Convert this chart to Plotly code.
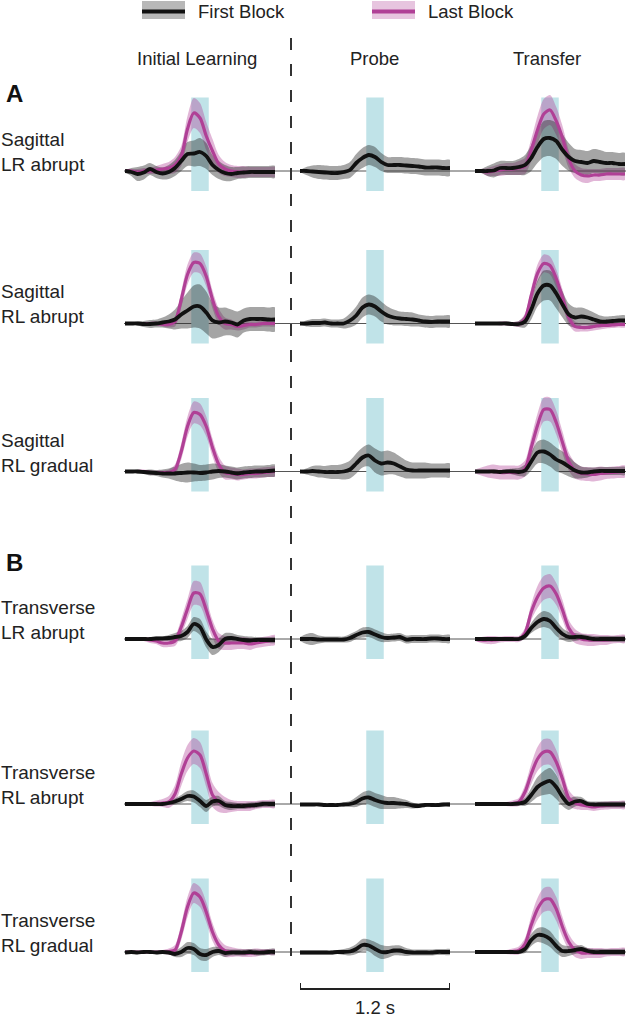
import plotly.graph_objects as go

# ---------------- data ----------------
TIME_S = [-0.6, -0.55, -0.5, -0.45, -0.4, -0.35, -0.3, -0.25, -0.2, -0.15, -0.1, -0.05,
          0.0, 0.05, 0.1, 0.15, 0.2, 0.25, 0.3, 0.35, 0.4, 0.45, 0.5, 0.55, 0.6]
CUE_WINDOW_S = [-0.07, 0.07]
SCALE_BAR_S = 1.2
COLUMN_TITLES = ["Initial Learning", "Probe", "Transfer"]
ROW_LABELS = ["Sagittal<br>LR abrupt", "Sagittal<br>RL abrupt", "Sagittal<br>RL gradual",
              "Transverse<br>LR abrupt", "Transverse<br>RL abrupt", "Transverse<br>RL gradual"]
GROUP_LETTERS = ["A", "B"]
LEGEND_NAMES = ["First Block", "Last Block"]

# Row 1: Sagittal LR abrupt
SLA_IL_FIRST = [0, -1, -3, -1.5, 2, -1, -2.5, -1, 3, 10, 17, 17.5, 19, 15, 6, 1, -2, -3, -2, -1.5, -1, -1, -1, -1, -1]
SLA_IL_FIRST_SEM = [1, 4, 7, 7, 6, 6, 6, 7, 8, 10, 12, 13, 14, 13, 10, 9, 8, 7, 6, 6, 6, 6, 6, 6, 6]
SLA_IL_LAST = [0, 0, -1, 0, 0, 1, 2, 3, 6, 15, 42, 58, 53, 35, 20, 7, 2, 0, -1, -1, -1, -1, -1, -1, -1]
SLA_IL_LAST_SEM = [2, 2, 3, 3, 3, 4, 5, 6, 8, 10, 13, 15, 15, 14, 12, 9, 7, 6, 6, 6, 5, 5, 5, 5, 5]
SLA_PR_FIRST = [0, 0, -0.5, -1, -1.5, -2, -2, -1, 1, 8, 13, 16, 14, 9, 6, 6, 6, 5.5, 5, 4.5, 3.5, 3.5, 3.5, 3, 3]
SLA_PR_FIRST_SEM = [1, 4, 6, 7, 7, 7, 7, 7, 8, 9, 10, 10, 10, 9, 8, 8, 8, 8, 8, 8, 8, 8, 8, 8, 8]
SLA_TR_FIRST = [0, 0, 0, 0.5, 3, 3, 3, 4, 6, 13, 24, 32, 33, 30, 21, 14, 10, 9, 8, 10, 9, 8, 8, 7, 7]
SLA_TR_FIRST_SEM = [1, 2, 5, 7, 7, 7, 7, 8, 10, 13, 16, 18, 18, 18, 16, 14, 12, 12, 12, 12, 12, 11, 11, 11, 11]
SLA_TR_LAST = [0, 0, -1, 0, 1, 2, 2, 3, 5, 21, 41, 57, 61, 50, 33, 12, 0, -4, -5, -4, -4, -3, -3, -3, -3]
SLA_TR_LAST_SEM = [1, 2, 4, 5, 6, 6, 6, 7, 8, 11, 14, 15, 15, 14, 12, 9, 7, 7, 7, 6, 6, 6, 6, 6, 6]

# Row 2: Sagittal RL abrupt
SRA_IL_FIRST = [0, 0, 0, -0.5, -0.5, 0, 1, 2, 4, 9, 13, 17, 17, 11, 3, 1, 2, 1, -1, 3, 4.5, 4.5, 4.5, 4, 4]
SRA_IL_FIRST_SEM = [1, 1, 2, 3, 4, 4, 5, 7, 10, 14, 18, 21, 22, 21, 18, 15, 14, 13, 13, 12, 12, 12, 12, 12, 12]
SRA_IL_LAST = [0, 0, 0, 0, 0, 0, -1, -1, 2, 24, 49, 61, 60, 47, 24, 7, 0, -1, -3, -2, -1, -1, 0, 0, 0]
SRA_IL_LAST_SEM = [1, 1, 1, 1, 1, 2, 2, 3, 5, 8, 10, 10, 10, 10, 9, 8, 6, 5, 4, 4, 3, 3, 3, 3, 3]
SRA_PR_FIRST = [0, 0, 0.5, 0.5, 1, 0, 0, 0, 3, 8, 16, 19, 17, 12, 8, 6, 5, 4.5, 4, 3, 2, 1.5, 2, 2, 2]
SRA_PR_FIRST_SEM = [1, 3, 4, 4, 4, 4, 4, 5, 7, 9, 10, 10, 10, 10, 9, 8, 7, 7, 7, 6, 6, 6, 6, 6, 6]
SRA_TR_FIRST = [0, 0, 0, 0, 0, 0, -0.5, -0.5, 2, 14, 30, 38, 38, 30, 19, 9, 6, 7, 6, 4, 2, 2, 2.5, 3, 3]
SRA_TR_FIRST_SEM = [1, 1, 1, 1, 1, 2, 2, 3, 6, 10, 13, 15, 15, 15, 13, 11, 10, 9, 8, 7, 6, 5, 5, 5, 5]
SRA_TR_LAST = [0, 0, 0, 0, 0, 0, -0.5, -0.5, 5, 28, 50, 60, 58, 45, 26, 6, -3, -4, -4, -3, -2, -2, -1.5, -1, -1]
SRA_TR_LAST_SEM = [1, 1, 1, 1, 2, 2, 2, 3, 5, 7, 9, 9, 9, 9, 8, 7, 5, 4, 4, 4, 4, 3, 3, 3, 3]

# Row 3: Sagittal RL gradual
SRG_IL_FIRST = [0, 0, 0, -0.5, -1, -1.5, -2, -2, -2, -1.5, -1, -1, -1.5, -1, 0, 0.5, 0, -1, -2, -1, -0.5, 0, 0, 0.5, 1]
SRG_IL_FIRST_SEM = [1, 1, 2, 2, 3, 3, 4, 5, 7, 9, 10, 9, 8, 8, 8, 7, 6, 6, 6, 6, 6, 6, 6, 6, 6]
SRG_IL_LAST = [0, 0, 0, 0, -1, -1, -1, -1, 2, 20, 45, 59, 57, 45, 24, 7, -1, -2, -3, -3, -2, -2, -1, -0.5, 0]
SRG_IL_LAST_SEM = [1, 1, 1, 2, 2, 2, 2, 3, 5, 8, 10, 11, 11, 10, 9, 8, 7, 6, 6, 5, 5, 5, 5, 5, 5]
SRG_PR_FIRST = [0, 0, 0.5, 0, -0.5, -0.5, -0.5, 0, 2, 8, 14, 16, 11, 8, 9, 8, 5, 2, 1, 1, 1, 1, 1, 1, 1]
SRG_PR_FIRST_SEM = [1, 3, 5, 6, 6, 7, 7, 8, 9, 10, 10, 11, 12, 12, 12, 11, 10, 9, 8, 8, 8, 7, 7, 7, 7]
SRG_TR_FIRST = [0, 0, 0, 0, -0.5, 0, 0, -0.5, 1, 10, 19, 20, 17, 12, 9, 5, 1, -1, -1, 0, 0.5, 0.5, 0.5, 0.5, 0.5]
SRG_TR_FIRST_SEM = [1, 1, 1, 2, 2, 2, 3, 4, 6, 9, 11, 12, 12, 12, 11, 10, 8, 6, 5, 4, 4, 4, 4, 4, 4]
SRG_TR_LAST = [0, 0, 0, 0, -1, -1, -1, -1, 3, 24, 46, 62, 62, 49, 29, 10, 1, -2, -2.5, -3, -2, -1.5, -1, -0.5, 0]
SRG_TR_LAST_SEM = [2, 4, 6, 7, 7, 7, 7, 7, 8, 10, 12, 12, 12, 12, 11, 9, 8, 7, 7, 7, 7, 6, 6, 6, 6]

# Row 4: Transverse LR abrupt
TLA_IL_FIRST = [0, 0, 0, 0, 0, 0.5, 0.5, 1, 2, 3, 7, 15, 12, -0.5, -8, -6, 0, 1, 0, -1, -1.5, -1, -1, -1, -1]
TLA_IL_FIRST_SEM = [1, 1, 1, 1, 1, 2, 2, 3, 4, 5, 6, 7, 8, 8, 8, 7, 6, 5, 4, 4, 4, 3, 3, 3, 3]
TLA_IL_LAST = [0, 0, 0, 0, -1, -2, -4, -4, -2, 12, 30, 46, 45, 29, 10, -2, -4, -4, -4, -4, -5, -4, -3, -2, -1]
TLA_IL_LAST_SEM = [1, 1, 1, 2, 3, 3, 4, 4, 5, 8, 10, 12, 12, 11, 9, 8, 7, 7, 6, 6, 6, 5, 5, 5, 5]
TLA_PR_FIRST = [0, 0, 0, -0.5, -0.5, -0.5, -0.5, -0.5, 1, 4, 6.5, 7, 4.5, 2, 1, 1.5, 2, -0.5, 0, 0, 0, 0.5, 0.5, 0, 0]
TLA_PR_FIRST_SEM = [2, 5, 6, 4, 3, 3, 3, 3, 4, 4, 5, 5, 5, 5, 4, 4, 4, 4, 4, 4, 4, 4, 4, 4, 4]
TLA_TR_FIRST = [0, 0, 0, 0, 0, 0, 0, 0, 3, 11, 17, 20, 18, 11, 5, 2, 2, 2, 1, 0, 0, 0, 0, 0, 0]
TLA_TR_FIRST_SEM = [1, 1, 1, 1, 1, 1, 1, 2, 3, 5, 7, 8, 8, 8, 6, 5, 4, 3, 3, 3, 3, 3, 3, 3, 3]
TLA_TR_LAST = [0, -1, -1, -1, -0.5, 0, 0, 0, 6, 27, 42, 51, 53, 45, 29, 11, 3, 0, -1, -1, -1, -1, -0.5, 0, 0]
TLA_TR_LAST_SEM = [2, 3, 4, 4, 3, 3, 3, 3, 5, 8, 11, 12, 12, 11, 10, 8, 7, 6, 6, 6, 5, 5, 4, 4, 4]

# Row 5: Transverse RL abrupt
TRA_IL_FIRST = [0, 0, 0, 0, 0, 0, 0, 1, 2.5, 5, 8, 7.5, 3, -2, 2.5, 3, -1, -2, -2, -2, -1.5, -1, 0, 0, 0]
TRA_IL_FIRST_SEM = [1, 1, 1, 1, 1, 1, 2, 2, 3, 4, 5, 6, 6, 6, 5, 5, 4, 4, 3, 3, 3, 3, 3, 3, 3]
TRA_IL_LAST = [0, 0, 0, 0, 0, 0.5, 1, 2, 10, 30, 46, 53, 49, 30, 9, 2, -1, -2, -2, -2, -2, -1, 0, 0, 0]
TRA_IL_LAST_SEM = [1, 1, 1, 1, 2, 3, 4, 6, 9, 12, 13, 13, 13, 13, 12, 10, 8, 6, 5, 5, 5, 4, 4, 4, 4]
TRA_PR_FIRST = [-0.5, -0.5, -0.5, -0.5, -1, -1, -1, -0.5, 0, 2, 5.5, 6.5, 4, 2, 1, 1, 0.5, 0, -1.5, -2, -1, -1, -1, -0.5, -0.5]
TRA_PR_FIRST_SEM = [1, 1, 1, 1, 1, 1, 1, 2, 3, 5, 6, 7, 7, 7, 6, 6, 5, 4, 3, 2, 2, 2, 2, 2, 2]
TRA_TR_FIRST = [0, 0, 0, 0, 0, 0, 0, 0.5, 2, 9, 17, 21, 23, 17, 7, 0, 2.5, 3, 0, -0.5, -0.5, -0.5, -0.5, -0.5, -0.5]
TRA_TR_FIRST_SEM = [1, 1, 1, 1, 1, 1, 1, 2, 4, 7, 10, 12, 13, 12, 9, 6, 5, 4, 3, 3, 3, 3, 3, 3, 3]
TRA_TR_LAST = [0, 0, 0, 0, 0, 0, 0.5, 2, 12, 30, 45, 52, 52, 42, 25, 6, 1, -1, -2, -3, -2, -1.5, -1, -1, -1]
TRA_TR_LAST_SEM = [1, 1, 1, 1, 2, 2, 3, 4, 7, 10, 12, 13, 13, 12, 10, 8, 6, 5, 4, 4, 4, 4, 4, 4, 4]

# Row 6: Transverse RL gradual
TRG_IL_FIRST = [-0.5, 0, -0.5, 0, 0, -0.5, 0, -0.5, -2, 0, 4, 3, -2, -3, 0, 1, -1, -0.5, -0.5, -0.5, 0, -0.5, -0.5, 0, 0]
TRG_IL_FIRST_SEM = [1, 1, 1, 1, 1, 1, 1, 2, 3, 5, 6, 6, 6, 6, 5, 4, 4, 3, 3, 3, 3, 3, 3, 3, 3]
TRG_IL_LAST = [0, 0, 0, 0, 0, 0, 0, 0.5, 2, 20, 45, 59, 55, 40, 20, 7, 1, 0, -0.5, -1, -1, -0.5, 0, 0, 0]
TRG_IL_LAST_SEM = [1, 1, 1, 1, 1, 1, 2, 3, 5, 8, 10, 10, 10, 10, 9, 7, 6, 5, 4, 4, 4, 4, 3, 3, 3]
TRG_PR_FIRST = [-0.5, -0.5, -0.5, -0.5, -0.5, -0.5, 0, 0, 0.5, 3, 7, 6.5, 3, 0, 0, 1.5, 1.5, 0, -0.5, -0.5, -0.5, -0.5, 0, 0, 0]
TRG_PR_FIRST_SEM = [2, 2, 2, 2, 2, 2, 2, 3, 4, 5, 6, 6, 7, 7, 6, 5, 5, 4, 3, 3, 3, 3, 3, 3, 3]
TRG_TR_FIRST = [0, 0, 0, 0, 0, 0, 0, 0, 3, 12, 17, 16.5, 13, 6, 1, 1, 2, 3, 1, 0, 0, 0, 0, 0, 0]
TRG_TR_FIRST_SEM = [1, 1, 1, 1, 1, 1, 1, 2, 4, 6, 7, 8, 8, 7, 6, 5, 4, 4, 3, 3, 3, 3, 3, 3, 3]
TRG_TR_LAST = [0, 0, 0, 0, 0, 0, 0.5, 1.5, 8, 27, 43, 52, 53, 43, 25, 10, 2, -1, -1, -1, -1, -0.5, 0, 0, 0]
TRG_TR_LAST_SEM = [1, 1, 1, 1, 1, 2, 3, 4, 6, 9, 11, 12, 12, 12, 10, 8, 7, 6, 5, 5, 5, 4, 4, 4, 4]

# panel table built from the arrays above: (first mean, first sem, last mean, last sem)
PANELS = [
    [(SLA_IL_FIRST, SLA_IL_FIRST_SEM, SLA_IL_LAST, SLA_IL_LAST_SEM),
     (SLA_PR_FIRST, SLA_PR_FIRST_SEM, None, None),
     (SLA_TR_FIRST, SLA_TR_FIRST_SEM, SLA_TR_LAST, SLA_TR_LAST_SEM)],
    [(SRA_IL_FIRST, SRA_IL_FIRST_SEM, SRA_IL_LAST, SRA_IL_LAST_SEM),
     (SRA_PR_FIRST, SRA_PR_FIRST_SEM, None, None),
     (SRA_TR_FIRST, SRA_TR_FIRST_SEM, SRA_TR_LAST, SRA_TR_LAST_SEM)],
    [(SRG_IL_FIRST, SRG_IL_FIRST_SEM, SRG_IL_LAST, SRG_IL_LAST_SEM),
     (SRG_PR_FIRST, SRG_PR_FIRST_SEM, None, None),
     (SRG_TR_FIRST, SRG_TR_FIRST_SEM, SRG_TR_LAST, SRG_TR_LAST_SEM)],
    [(TLA_IL_FIRST, TLA_IL_FIRST_SEM, TLA_IL_LAST, TLA_IL_LAST_SEM),
     (TLA_PR_FIRST, TLA_PR_FIRST_SEM, None, None),
     (TLA_TR_FIRST, TLA_TR_FIRST_SEM, TLA_TR_LAST, TLA_TR_LAST_SEM)],
    [(TRA_IL_FIRST, TRA_IL_FIRST_SEM, TRA_IL_LAST, TRA_IL_LAST_SEM),
     (TRA_PR_FIRST, TRA_PR_FIRST_SEM, None, None),
     (TRA_TR_FIRST, TRA_TR_FIRST_SEM, TRA_TR_LAST, TRA_TR_LAST_SEM)],
    [(TRG_IL_FIRST, TRG_IL_FIRST_SEM, TRG_IL_LAST, TRG_IL_LAST_SEM),
     (TRG_PR_FIRST, TRG_PR_FIRST_SEM, None, None),
     (TRG_TR_FIRST, TRG_TR_FIRST_SEM, TRG_TR_LAST, TRG_TR_LAST_SEM)],
]

# ---------------- layout / style ----------------
W, H = 626, 1019
FONT = "Liberation Sans, Arial, Helvetica, sans-serif"
TXT = "#222222"
COL_LEFT_PX = [125, 300, 475]
COL_W_PX = 150
ROW_BASE_PX = [171, 323.5, 471.5, 639, 804, 952]
Y_LO, Y_HI = -30, 85
CUE_BOTTOM, CUE_TOP = -20, 73.5

GRAY_BAND = "rgba(40,40,40,0.42)"
MAG_LINE = "rgb(176,64,150)"
MAG_BAND = "rgba(176,64,150,0.38)"
CUE = "#c0e3e8"


def px_x(p):
    return p / W


def px_y(p):
    return 1 - p / H


fig = go.Figure()
layout_axes = {}
shapes = []
annotations = []


def band_xy(mean, sem):
    up = [m + s for m, s in zip(mean, sem)]
    lo = [m - s for m, s in zip(mean, sem)]
    return TIME_S + TIME_S[::-1], up + lo[::-1]


for r, row in enumerate(PANELS):
    b = ROW_BASE_PX[r]
    for c, (fm, fs, lm, ls) in enumerate(row):
        k = r * 3 + c + 1
        xa, ya = f"x{k}", f"y{k}"
        xname = "xaxis" if k == 1 else f"xaxis{k}"
        yname = "yaxis" if k == 1 else f"yaxis{k}"
        layout_axes[xname] = dict(domain=[px_x(COL_LEFT_PX[c]), px_x(COL_LEFT_PX[c] + COL_W_PX)],
                                  range=[TIME_S[0], TIME_S[-1]], visible=False, anchor=ya,
                                  fixedrange=True)
        layout_axes[yname] = dict(domain=[px_y(b - Y_LO), px_y(b - Y_HI)],
                                  range=[Y_LO, Y_HI], visible=False, anchor=xa, fixedrange=True)
        # cue window
        shapes.append(dict(type="rect", xref=xa, yref=ya, x0=CUE_WINDOW_S[0], x1=CUE_WINDOW_S[1],
                           y0=CUE_BOTTOM, y1=CUE_TOP, fillcolor=CUE, line_width=0, layer="below"))
        # bands
        if lm is not None:
            bx, by = band_xy(lm, ls)
            fig.add_trace(go.Scatter(x=bx, y=by, xaxis=xa, yaxis=ya, fill="toself",
                                     fillcolor=MAG_BAND, mode="lines", line=dict(width=0, shape="spline", smoothing=0.8),
                                     hoverinfo="skip", showlegend=False))
        bx, by = band_xy(fm, fs)
        fig.add_trace(go.Scatter(x=bx, y=by, xaxis=xa, yaxis=ya, fill="toself",
                                 fillcolor=GRAY_BAND, mode="lines", line=dict(width=0, shape="spline", smoothing=0.8),
                                 hoverinfo="skip", showlegend=False))
        if lm is not None:
            fig.add_trace(go.Scatter(x=TIME_S, y=lm, xaxis=xa, yaxis=ya, mode="lines",
                                     line=dict(color=MAG_LINE, width=3.2, shape="spline", smoothing=0.8),
                                     name=LEGEND_NAMES[1], showlegend=False))
        fig.add_trace(go.Scatter(x=TIME_S, y=fm, xaxis=xa, yaxis=ya, mode="lines",
                                 line=dict(color="#111111", width=3.8, shape="spline", smoothing=0.8),
                                 name=LEGEND_NAMES[0], showlegend=False))
    # baseline across the row
    shapes.append(dict(type="line", xref="paper", yref=f"y{r * 3 + 1}", x0=px_x(124), x1=1,
                       y0=0, y1=0, line=dict(color="#555555", width=1), layer="below"))
    # row label
    annotations.append(dict(x=px_x(-1), y=px_y(b - 19), xref="paper", yref="paper", xanchor="left",
                            yanchor="middle", align="left", showarrow=False, text=ROW_LABELS[r],
                            font=dict(family=FONT, size=19, color=TXT)))

# column titles
for c, title in enumerate(COLUMN_TITLES):
    cx = [197, 374.5, 546.5][c]
    annotations.append(dict(x=px_x(cx), y=px_y(58), xref="paper", yref="paper", xanchor="center",
                            yanchor="middle", showarrow=False, text=title,
                            font=dict(family=FONT, size=18.5, color=TXT)))

# group letters
for letter, ypx in zip(GROUP_LETTERS, [93, 562]):
    annotations.append(dict(x=px_x(4), y=px_y(ypx), xref="paper", yref="paper", xanchor="left",
                            yanchor="middle", showarrow=False, text=f"<b>{letter}</b>",
                            font=dict(family=FONT, size=24, color="#111111")))

# legend (drawn)
for (x0, name, band_c, line_c, tx) in [(142, LEGEND_NAMES[0], "rgba(40,40,40,0.33)", "#111111", 196),
                                       (372, LEGEND_NAMES[1], "rgba(176,64,150,0.3)", MAG_LINE, 426)]:
    shapes.append(dict(type="rect", xref="paper", yref="paper", x0=px_x(x0), x1=px_x(x0 + 43),
                       y0=px_y(19), y1=px_y(1), fillcolor=band_c, line_width=0))
    shapes.append(dict(type="line", xref="paper", yref="paper", x0=px_x(x0), x1=px_x(x0 + 43),
                       y0=px_y(11.5), y1=px_y(11.5), line=dict(color=line_c, width=4)))
    annotations.append(dict(x=px_x(tx), y=px_y(12), xref="paper", yref="paper", xanchor="left",
                            yanchor="middle", showarrow=False, text=name,
                            font=dict(family=FONT, size=18.5, color=TXT)))

# dashed separator
shapes.append(dict(type="line", xref="paper", yref="paper", x0=px_x(291), x1=px_x(291),
                   y0=px_y(38), y1=px_y(956), line=dict(color="#333333", width=2, dash="12px,14px")))

# scale bar under the last probe panel
sb_ax = f"x{5 * 3 + 2}"
half = SCALE_BAR_S / 2
shapes.append(dict(type="path", xref=sb_ax, yref="paper",
                   path=f"M {-half},{px_y(983)} L {-half},{px_y(989)} L {half},{px_y(989)} L {half},{px_y(983)}",
                   line=dict(color="#222222", width=2)))
annotations.append(dict(x=px_x(374.5), y=px_y(1007), xref="paper", yref="paper", xanchor="center",
                        yanchor="middle", showarrow=False, text=f"{SCALE_BAR_S} s",
                        font=dict(family=FONT, size=18.5, color=TXT)))

fig.update_layout(width=W, height=H, margin=dict(l=0, r=0, t=0, b=0, pad=0),
                  paper_bgcolor="white", plot_bgcolor="rgba(0,0,0,0)", showlegend=False,
                  shapes=shapes, annotations=annotations, **layout_axes)

fig.write_html("out.html", config={"displayModeBar": False, "staticPlot": True},
               post_script="document.body.style.margin='0';document.body.style.overflow='hidden';")
